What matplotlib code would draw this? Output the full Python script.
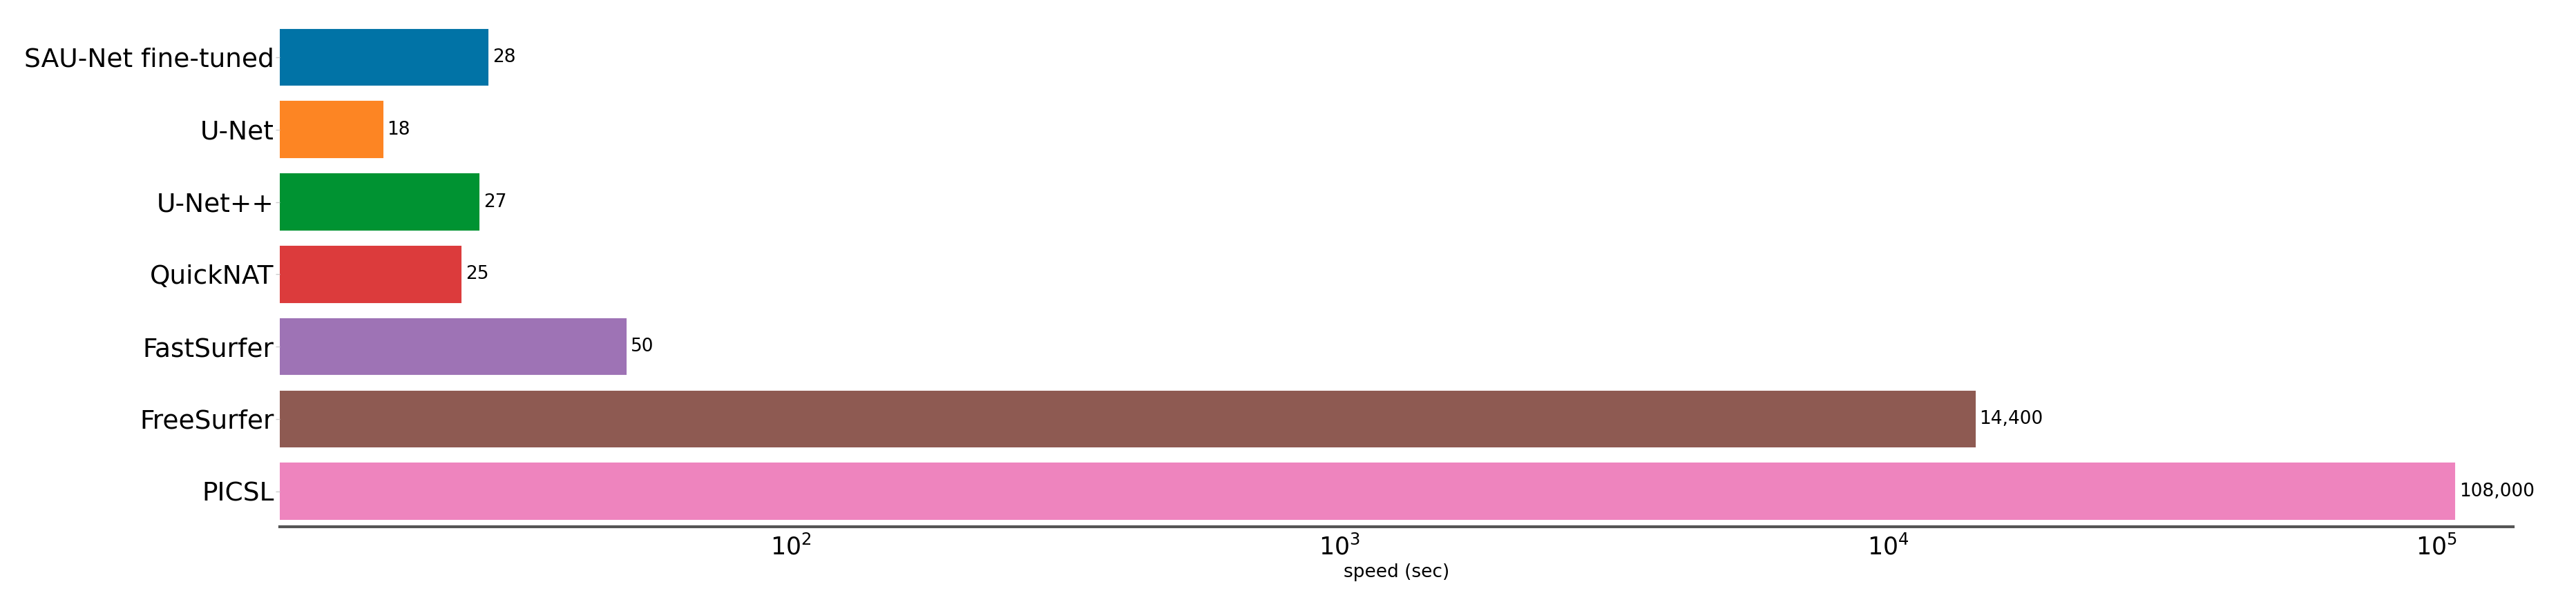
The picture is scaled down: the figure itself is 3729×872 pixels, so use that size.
import matplotlib
matplotlib.use("Agg")
import matplotlib.pyplot as plt

# data
models = ["SAU-Net fine-tuned", "U-Net", "U-Net++", "QuickNAT", "FastSurfer", "FreeSurfer", "PICSL"]
speed = [28, 18, 27, 25, 50, 14400, 108000]
colors = ["#0173a6", "#fd8523", "#009332", "#dc3b3c", "#9e73b5", "#8e5a52", "#ee84be"]

fig = plt.figure(figsize=(37.29, 8.72), dpi=100)
ax = fig.add_axes([0.1086, 0.125, 0.867, 0.852])

ypos = list(range(len(models)))
bars = ax.barh(ypos, speed, height=0.77, color=colors, edgecolor=colors, linewidth=1.5)
ax.set_xscale("log")
ax.set_xlim(11.7, 138000)
ax.set_ylim(6.49, -0.6)

ax.set_yticks(ypos)
ax.set_yticklabels(models, fontsize=27)
ax.tick_params(axis="y", length=4, width=1, color="#cccccc", pad=2)
ax.tick_params(axis="x", which="major", labelsize=25, length=0, pad=8)
ax.tick_params(axis="x", which="minor", length=0)

for s in ["top", "right", "left"]:
    ax.spines[s].set_visible(False)
ax.spines["bottom"].set_color("#555555")
ax.spines["bottom"].set_linewidth(3)

ax.set_xlabel("speed (sec)", fontsize=19, labelpad=4)

for b, v in zip(bars, speed):
    ax.annotate(f"{v:,}", xy=(b.get_width(), b.get_y() + b.get_height() / 2),
                xytext=(5, 0), textcoords="offset points",
                ha="left", va="center", fontsize=19)

fig.savefig("out.png", dpi=100)
